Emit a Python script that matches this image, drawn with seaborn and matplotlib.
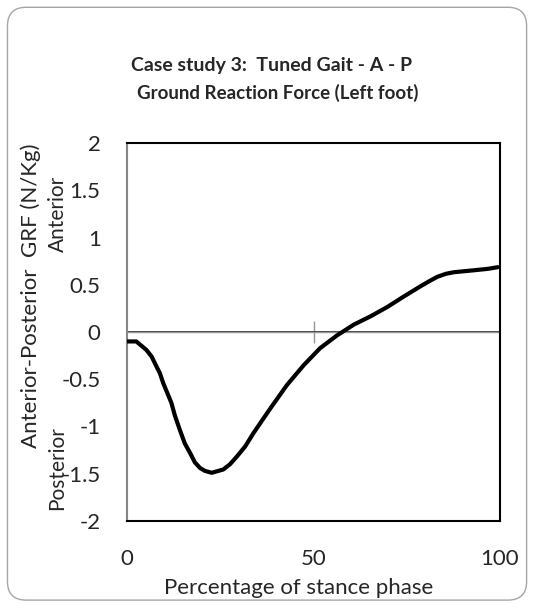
import matplotlib
matplotlib.use("Agg")
import matplotlib.pyplot as plt
import seaborn as sns
import pandas as pd
from matplotlib.patches import FancyBboxPatch

# 读取自参考图的曲线数据
stance_pct = [0, 2.5, 5.2, 6.6, 7.9, 8.8, 9.7, 11.9, 12.8, 14.2, 15.5, 16.9, 18.2,
              19.6, 20.9, 22.7, 25.8, 27.6, 29.4, 31.7, 33.9, 38.4, 42.9, 47.4,
              51.8, 56.3, 60.8, 65.3, 69.8, 74.3, 78.7, 81.0, 83.2, 85.5, 87.7,
              92.2, 96.7, 99.4]
grf_ap = [-0.10, -0.10, -0.19, -0.26, -0.365, -0.435, -0.54, -0.75, -0.88, -1.04,
          -1.18, -1.28, -1.38, -1.44, -1.47, -1.49, -1.455, -1.40, -1.32, -1.21,
          -1.07, -0.81, -0.56, -0.35, -0.17, -0.036, 0.078, 0.166, 0.265, 0.378,
          0.484, 0.537, 0.584, 0.616, 0.633, 0.65, 0.668, 0.686]
x_ticks = [0, 50, 100]
y_ticks = [-2, -1.5, -1, -0.5, 0, 0.5, 1, 1.5, 2]
y_tick_labels = ['-2', '-1.5', '-1', '-0.5', '0', '0.5', '1', '1.5', '2']

sns.set_theme(style='white')
plt.rcParams['font.family'] = ['Lato', 'DejaVu Sans']
plt.rcParams['axes.unicode_minus'] = False

df = pd.DataFrame({'pct': stance_pct, 'grf': grf_ap})

fig = plt.figure(figsize=(5.33, 6.08), dpi=100)
ax = fig.add_axes([0.2383, 0.1431, 0.6998, 0.6217])

# 外框圆角
frame = FancyBboxPatch((0.014, 0.013), 0.974, 0.975, boxstyle='round,pad=0,rounding_size=0.035',
                       transform=fig.transFigure, facecolor='none', edgecolor='#a6a6a6', lw=1.0,
                       mutation_aspect=533 / 608)
fig.patches.append(frame)

sns.lineplot(data=df, x='pct', y='grf', color='black', lw=3, ax=ax, zorder=3)

ax.set_xlim(0, 100)
ax.set_ylim(-2, 2)
ax.set_xticks(x_ticks)
ax.set_xticklabels([str(t) for t in x_ticks])
ax.set_yticks(y_ticks)
ax.set_yticklabels(y_tick_labels)
ax.tick_params(axis='x', length=0, pad=20, labelsize=16)
ax.tick_params(axis='y', length=0, pad=19, labelsize=16)

for side in ['top', 'right', 'bottom']:
    ax.spines[side].set_color('black')
    ax.spines[side].set_linewidth(1.5)
ax.spines['left'].set_color('#868686')
ax.spines['left'].set_linewidth(1.5)

# 零线与50处的刻度
ax.axhline(0, color='#969696', lw=1, zorder=2)
sec = ax.secondary_xaxis(0.5)
sec.set_xticks([50])
sec.set_xticklabels([])
sec.tick_params(direction='inout', length=16, width=1, color='#969696')
sec.spines['bottom'].set_visible(False)

ax.set_xlabel('Percentage of stance phase', fontsize=16)
ax.xaxis.set_label_coords(0.461, -0.152)
ax.set_ylabel('')

fig.text(0.058, 0.513, 'Anterior-Posterior  GRF (N/Kg)', rotation=90, fontsize=16,
         ha='center', va='center')
fig.text(0.108, 0.649, 'Anterior', rotation=90, fontsize=15, ha='center', va='center')
fig.text(0.108, 0.23, 'Posterior', rotation=90, fontsize=15, ha='center', va='center')

fig.text(0.51, 0.893, 'Case study 3:  Tuned Gait - A - P', fontsize=14, fontweight='bold',
         ha='center', va='center')
fig.text(0.522, 0.847, 'Ground Reaction Force (Left foot)', fontsize=13.5, fontweight='bold',
         ha='center', va='center')

fig.savefig('out.png', dpi=100)
